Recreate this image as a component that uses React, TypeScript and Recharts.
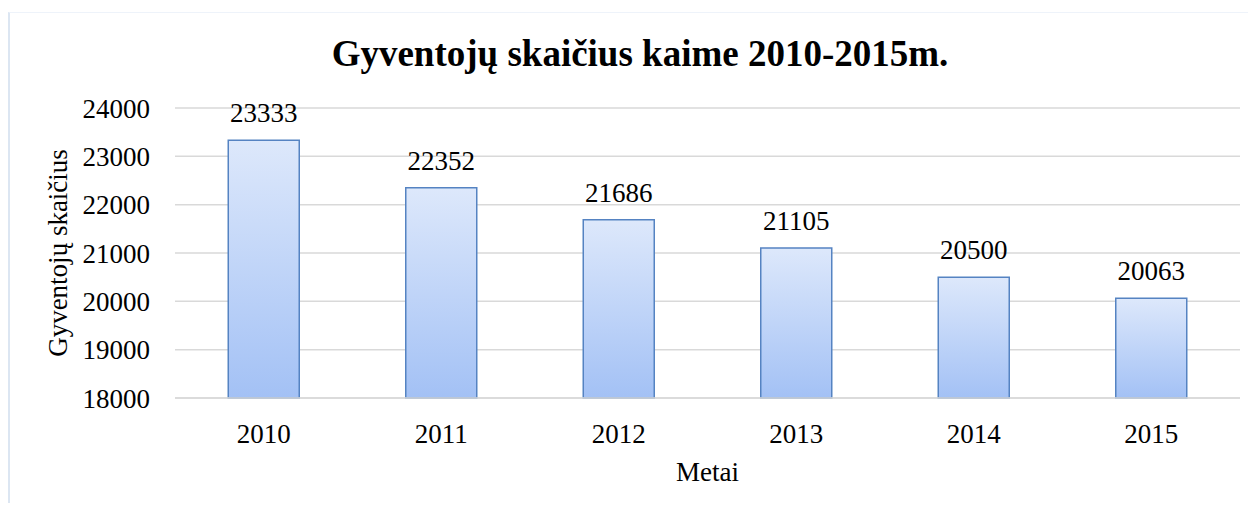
import React from 'react';
import { BarChart, Bar, XAxis, YAxis, CartesianGrid, LabelList } from 'recharts';

const years = ['2010', '2011', '2012', '2013', '2014', '2015'];
const population = [23333, 22352, 21686, 21105, 20500, 20063];
const yTicks = [18000, 19000, 20000, 21000, 22000, 23000, 24000];

const data = years.map((y, i) => ({ year: y, value: population[i] }));

const FONT = '"Liberation Serif", "Times New Roman", serif';

export default function App() {
  return (
    <div style={{ position: 'relative', width: 1243, height: 495, fontFamily: FONT }}>
      <div
        style={{
          position: 'absolute',
          left: 0,
          top: 4,
          width: 1240,
          height: 491,
          borderLeft: '2px solid #dce6f2',
          borderTop: '1px solid #eef3fa',
          boxSizing: 'border-box',
        }}
      />
      <div
        style={{
          position: 'absolute',
          left: 0,
          width: 1264,
          top: 26,
          textAlign: 'center',
          fontWeight: 'bold',
          fontSize: 37,
          lineHeight: '40px',
          color: '#000',
        }}
      >
        Gyventojų skaičius kaime 2010-2015m.
      </div>
      <BarChart
        width={1243}
        height={495}
        data={data}
        margin={{ top: 100, right: 11, left: 0, bottom: 20 }}
        barCategoryGap="30%"
        style={{ position: 'absolute', left: 0, top: 0 }}
      >
        <defs>
          <linearGradient id="barGrad" x1="0" y1="0" x2="0" y2="1">
            <stop offset="0%" stopColor="#dde8fb" />
            <stop offset="100%" stopColor="#a3c1f5" />
          </linearGradient>
        </defs>
        <CartesianGrid vertical={false} stroke="#d9d9d9" strokeWidth={1.5} />
        <XAxis
          dataKey="year"
          height={85}
          tickLine={false}
          tickSize={0}
          tickMargin={26}
          axisLine={{ stroke: '#d9d9d9', strokeWidth: 1.5 }}
          tick={{ fill: '#000', fontSize: 27, fontFamily: FONT }}
          label={{ value: 'Metai', position: 'insideBottom', offset: 2, fill: '#000', fontSize: 27, fontFamily: FONT }}
        />
        <YAxis
          width={167}
          domain={[18000, 24000]}
          ticks={yTicks}
          interval={0}
          axisLine={false}
          tickLine={false}
          tickSize={0}
          tickMargin={25}
          tick={{ fill: '#000', fontSize: 27, fontFamily: FONT }}
          label={{ value: 'Gyventojų skaičius', angle: -90, position: 'center', dx: -34, fill: '#000', fontSize: 27, fontFamily: FONT }}
        />
        <Bar
          dataKey="value"
          fill="url(#barGrad)"
          stroke="#5583c2"
          strokeWidth={1.5}
          isAnimationActive={false}
        >
          <LabelList dataKey="value" position="top" offset={18} fill="#000" fontSize={27} fontFamily={FONT} />
        </Bar>
      </BarChart>
    </div>
  );
}
